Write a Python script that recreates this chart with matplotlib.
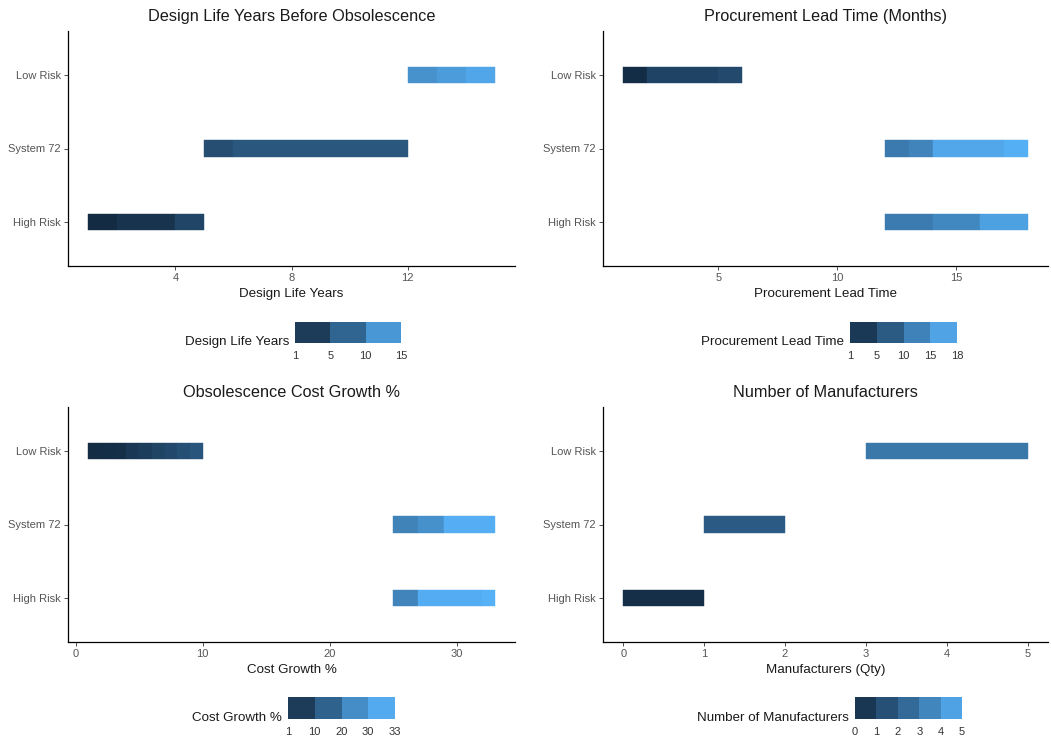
import numpy as np
import matplotlib
matplotlib.use("Agg")
import matplotlib.pyplot as plt
from matplotlib.colors import ListedColormap, BoundaryNorm
import matplotlib.colorbar as mcb

plt.rcParams['font.family'] = ['Liberation Sans', 'DejaVu Sans']

# ---------------- data ----------------
risk_levels = ["High Risk", "System 72", "Low Risk"]

design_edges = [[1, 2, 4, 5], [5, 6, 12], [12, 13, 14, 15]]
design_colour = [[1, 2, 4], [5, 6], [12, 13, 14]]
design_breaks = [1, 5, 10, 15]
design_xticks = [4, 8, 12]

lead_edges = [[12, 14, 16, 18], [12, 13, 14, 17, 18], [1, 2, 5, 6]]
lead_colour = [[11.6, 13.2, 16.1], [11.5, 12.7, 16.8, 17.8], [1.3, 4.4, 5.3]]
lead_breaks = [1, 5, 10, 15, 18]
lead_xticks = [5, 10, 15]

cost_edges = [[25, 27, 32, 33], [25, 27, 29, 33], [1, 2, 3, 4, 5, 6, 7, 8, 9, 10]]
cost_colour = [[23, 32.2, 33], [22.8, 26, 32.4], [1.5, 1.8, 2.2, 4.5, 6, 7.5, 9, 10.5, 12]]
cost_breaks = [1, 10, 20, 30, 33]
cost_xticks = [0, 10, 20, 30]

mfr_edges = [[0, 1], [1, 2], [3, 5]]
mfr_colour = [[0.15], [1.95], [3.0]]
mfr_breaks = [0, 1, 2, 3, 4, 5]
mfr_xticks = [0, 1, 2, 3, 4, 5]

titles = ["Design Life Years Before Obsolescence", "Procurement Lead Time (Months)",
          "Obsolescence Cost Growth %", "Number of Manufacturers"]
xlabels = ["Design Life Years", "Procurement Lead Time", "Cost Growth %", "Manufacturers (Qty)"]
legend_titles = ["Design Life Years", "Procurement Lead Time", "Cost Growth %", "Number of Manufacturers"]

# ---------------- Lab gradient (ggplot style) ----------------
LOW_HEX, HIGH_HEX = "#132B43", "#56B1F7"
M = np.array([[0.4124, 0.3576, 0.1805], [0.2126, 0.7152, 0.0722], [0.0193, 0.1192, 0.9505]])
MINV = np.linalg.inv(M)
WHITE = np.array([0.95047, 1.0, 1.08883])


def hex2rgb(h):
    h = h.lstrip('#')
    return np.array([int(h[i:i + 2], 16) / 255 for i in (0, 2, 4)])


def rgb2lab(c):
    lin = np.where(c <= 0.04045, c / 12.92, ((c + 0.055) / 1.055) ** 2.4)
    xyz = M @ lin / WHITE
    f = np.where(xyz > 0.008856, np.cbrt(xyz), 7.787 * xyz + 16 / 116)
    return np.array([116 * f[1] - 16, 500 * (f[0] - f[1]), 200 * (f[1] - f[2])])


def lab2rgb(lab):
    fy = (lab[0] + 16) / 116
    fx = fy + lab[1] / 500
    fz = fy - lab[2] / 200
    f = np.array([fx, fy, fz])
    t = np.where(f ** 3 > 0.008856, f ** 3, (f - 16 / 116) / 7.787)
    lin = MINV @ (t * WHITE)
    lin = np.clip(lin, 0, 1)
    c = np.where(lin <= 0.0031308, 12.92 * lin, 1.055 * lin ** (1 / 2.4) - 0.055)
    return np.clip(c, 0, 1)


LAB_LO, LAB_HI = rgb2lab(hex2rgb(LOW_HEX)), rgb2lab(hex2rgb(HIGH_HEX))


def grad(frac):
    frac = min(max(frac, 0.0), 1.0)
    return tuple(lab2rgb(LAB_LO + (LAB_HI - LAB_LO) * frac))


# ---------------- layout ----------------
W, H = 1051, 740
fig = plt.figure(figsize=(W / 100, H / 100), dpi=100)


def px_axes(x0, y0, x1, y1):
    return fig.add_axes([x0 / W, 1 - y1 / H, (x1 - x0) / W, (y1 - y0) / H])


panels = [
    (design_edges, design_colour, design_breaks, design_xticks, (68, 31, 515, 266), (295, 322, 401, 343)),
    (lead_edges, lead_colour, lead_breaks, lead_xticks, (603, 31, 1048, 266), (850, 322, 957, 343)),
    (cost_edges, cost_colour, cost_breaks, cost_xticks, (68, 407, 515, 642), (288, 697, 395, 719)),
    (mfr_edges, mfr_colour, mfr_breaks, mfr_xticks, (603, 407, 1048, 642), (855, 697, 962, 719)),
]

for k, (edges, colours, breaks, xticks, box, cbox) in enumerate(panels):
    ax = px_axes(*box)
    vmin, vmax = min(breaks), max(breaks)
    for i, (e, cv) in enumerate(zip(edges, colours)):
        for j, v in enumerate(cv):
            col = grad((v - vmin) / (vmax - vmin))
            ax.barh(i + 1, e[j + 1] - e[j], left=e[j], height=0.22, color=col,
                    edgecolor=col, linewidth=0.3)
    span = vmax - vmin
    ax.set_xlim(vmin - 0.05 * span, vmax + 0.05 * span)
    ax.set_ylim(0.4, 3.6)
    ax.set_yticks([1, 2, 3])
    ax.set_yticklabels(risk_levels)
    ax.set_xticks(xticks)
    ax.set_xticklabels([str(t) for t in xticks])
    for s in ("top", "right"):
        ax.spines[s].set_visible(False)
    for s in ("left", "bottom"):
        ax.spines[s].set_linewidth(0.9)
        ax.spines[s].set_color("black")
    ax.tick_params(axis="both", length=2.8, width=0.6, color="#333333",
                   labelcolor="#555555", pad=2.5)
    ax.tick_params(axis="y", labelsize=8)
    ax.tick_params(axis="x", labelsize=8)
    ax.set_title(titles[k], fontsize=11.7, color="#1A1A1A", pad=7)
    ax.set_xlabel(xlabels[k], fontsize=9.6, color="#1A1A1A", labelpad=3)

    # stepped colour legend
    cax = px_axes(*cbox)
    n = len(breaks) - 1
    mids = [(breaks[i] + breaks[i + 1]) / 2 for i in range(n)]
    cmap = ListedColormap([grad((m - vmin) / span) for m in mids])
    norm = BoundaryNorm(breaks, n)
    cb = mcb.ColorbarBase(cax, cmap=cmap, norm=norm, orientation="horizontal",
                          spacing="uniform", ticks=breaks)
    cb.outline.set_visible(False)
    cb.set_ticklabels([str(b) for b in breaks])
    cax.tick_params(length=0, labelsize=8, labelcolor="#333333", pad=5.5)
    x0, y0, x1, y1 = cbox
    fig.text((x0 - 6) / W, 1 - (y1 - 1) / H, legend_titles[k], ha="right", va="center",
             fontsize=9.6, color="#1A1A1A")

fig.savefig("out.png", dpi=100, facecolor="white")
